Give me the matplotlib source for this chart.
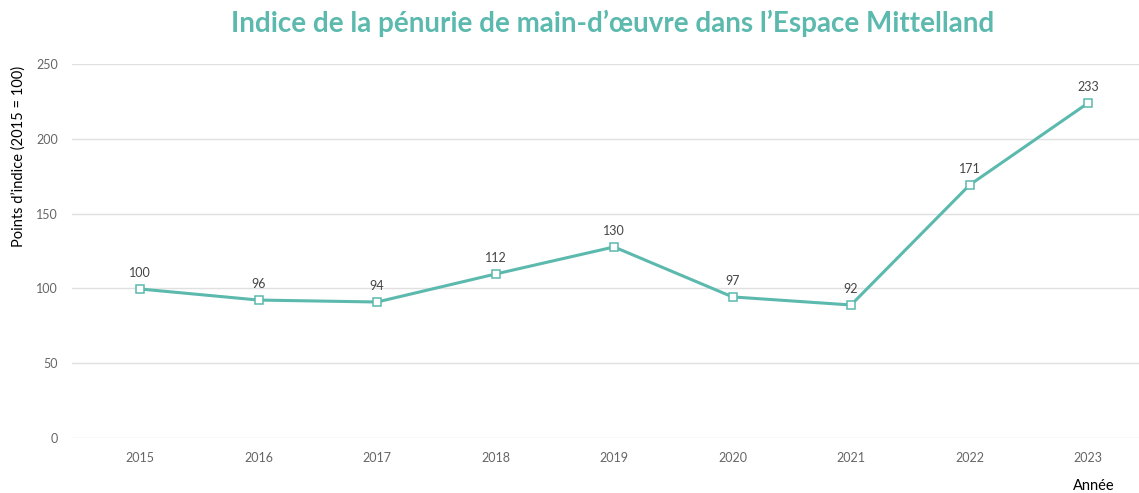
import matplotlib.pyplot as plt

# données
annees = ["2015", "2016", "2017", "2018", "2019", "2020", "2021", "2022", "2023"]
valeurs = [99.6, 92.2, 90.9, 109.6, 127.7, 94.3, 88.9, 169.1, 223.9]
etiquettes = ["100", "96", "94", "112", "130", "97", "92", "171", "233"]
y_ticks = [0, 50, 100, 150, 200, 250]

teal = "#5bb9ae"
gris = "#666666"

plt.rcParams["font.family"] = ["Lato", "DejaVu Sans"]

fig = plt.figure(figsize=(11.39, 4.93), dpi=100)
ax = fig.add_axes([0.0632, 0.1116, 0.9368, 0.7586])

x = range(len(annees))
ax.plot(x, valeurs, color=teal, linewidth=2.2, marker="s", markersize=5.5,
        markerfacecolor="white", markeredgecolor=teal, markeredgewidth=1.1, zorder=3)

for xi, v, lab in zip(x, valeurs, etiquettes):
    ax.annotate(lab, (xi, v), xytext=(0, 7), textcoords="offset points",
                ha="center", va="bottom", fontsize=9, color="#444444")

ax.set_xlim(-0.574, 8.43)
ax.set_ylim(0, 250)
ax.set_xticks(list(x))
ax.set_xticklabels(annees)
ax.set_yticks(y_ticks)
ax.grid(axis="y", color="#e0e0e0", linewidth=1)
ax.set_axisbelow(True)
for s in ax.spines.values():
    s.set_visible(False)
ax.tick_params(axis="both", length=0, labelsize=9, colors=gris)
ax.tick_params(axis="x", pad=10)
ax.tick_params(axis="y", pad=10)

fig.text(0.0167, 0.683, "Points d\u2019indice (2015 = 100)", rotation=90,
         ha="center", va="center", fontsize=10.5, color="black")
fig.text(0.96, 0.014, "Ann\u00e9e", ha="center", va="center", fontsize=10.5, color="black")
fig.text(0.538, 0.952, "Indice de la p\u00e9nurie de main-d\u2019\u0153uvre dans l\u2019Espace Mittelland",
         ha="center", va="center", fontsize=20, fontweight="bold", color=teal)

fig.savefig("out.png", dpi=100)
